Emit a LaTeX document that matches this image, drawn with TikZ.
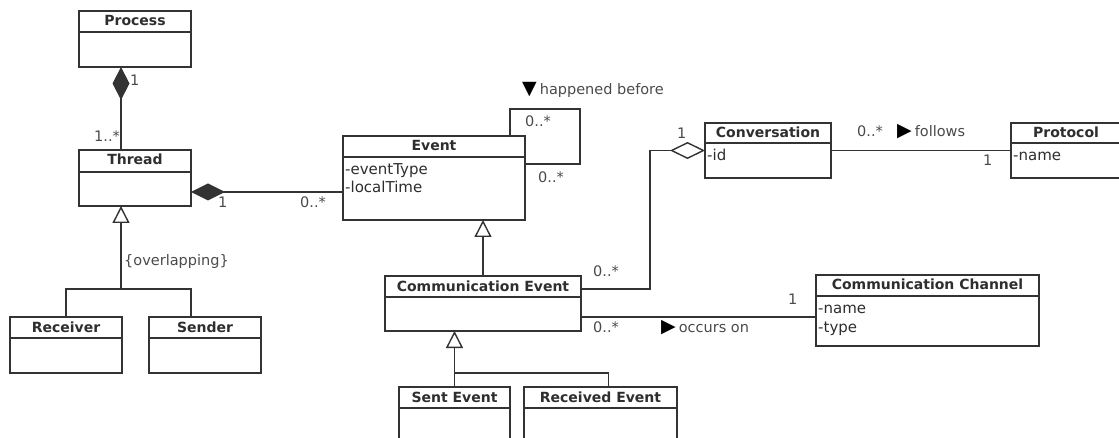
\documentclass[tikz,border=0pt]{standalone}
\usepackage{fontspec}
\setmainfont{DejaVu Sans}
\usetikzlibrary{arrows.meta}
\definecolor{ink}{HTML}{333333}
\definecolor{txt}{HTML}{2E2E2E}
\definecolor{lbl}{HTML}{4A4A4A}

\tikzset{
  classbox/.style={draw=ink, line width=1.4pt, fill=white, inner sep=0pt,
    outer sep=0pt, anchor=north west},
  ctitle/.style={font=\bfseries\fontsize{14}{16}\selectfont, text=txt,
    inner sep=0pt, anchor=base},
  attr/.style={font=\fontsize{15}{17}\selectfont, text=txt, inner sep=0pt,
    anchor=base west},
  mult/.style={font=\fontsize{14.5}{16}\selectfont, text=lbl, inner sep=0pt,
    anchor=base west},
  conn/.style={draw=ink, line width=1.4pt},
  composition/.style={{Diamond[length=#1,width=17pt]}-},
  aggregation/.style={{Diamond[open,fill=white,length=#1,width=17pt]}-},
  inherits/.style={{Triangle[open,fill=white,length=17pt,width=17pt]}-},
}

% reading-direction marker for association names
\newcommand\dirmark[1]{{\fontsize{19}{16}\selectfont\color{black}#1}\kern3pt}

% name, x, y, width, height, header height, title
\newcommand\umlclass[7]{%
  \node[classbox, minimum width=#4pt, minimum height=#5pt] (#1) at (#2,#3) {};
  \draw[conn] ([yshift=-#6pt]#1.north west) -- ([yshift=-#6pt]#1.north east);
  \node[ctitle] (#1-title) at ([yshift=-15pt]#1.north) {#7};
}

\begin{document}
\begin{tikzpicture}[x=1pt,y=-1pt]
\useasboundingbox (0,0) rectangle (1119,438);
\clip (0,0) rectangle (1119,438);

% classes
\umlclass{process}{79}{11}{112}{56}{21}{Process}
\umlclass{thread}{79}{150}{112}{56}{22}{Thread}
\umlclass{receiver}{10}{317}{112}{56}{21}{Receiver}
\umlclass{sender}{149}{317}{112}{56}{21}{Sender}
\umlclass{event}{343}{136}{182}{84}{21}{Event}
\umlclass{commevent}{385}{276}{196}{55}{21}{Communication Event}
\umlclass{sent}{399}{387}{111}{70}{21}{Sent Event}
\umlclass{received}{524}{387}{153}{70}{21}{Received Event}
\umlclass{conversation}{705}{123}{126}{55}{20}{Conversation}
\umlclass{protocol}{1011}{123}{110}{55}{20}{Protocol}
\umlclass{channel}{816}{275}{223}{71}{21}{Communication Channel}

% attributes
\node[attr] (event-a1) at (345,175) {-eventType};
\node[attr] (event-a2) at (345,193) {-localTime};
\node[attr] (conversation-a1) at (707,161) {-id};
\node[attr] (protocol-a1) at (1013,161) {-name};
\node[attr] (channel-a1) at (818,314) {-name};
\node[attr] (channel-a2) at (818,333) {-type};

% Process owns Threads
\draw[conn, composition=33pt] ([xshift=-14pt]process.south) -- ([xshift=-14pt]thread.north);
\node[mult] (m-proc) at (130,86) {1};
\node[mult] (m-thread) at (94,142) {1..*};

% Thread owns Events
\draw[conn, composition=34pt] ([yshift=-14pt]thread.east) -- ([yshift=-14pt]event.west);
\node[mult] (m-thread-ev) at (218,208) {1};
\node[mult] (m-ev-thread) at (300,208) {0..*};

% Thread specialisations
\draw[conn, inherits] ([xshift=-14pt]thread.south) -- ++(0,83) coordinate (tgen);
\draw[conn] (tgen) -| (receiver.north);
\draw[conn] (tgen) -| ([xshift=-14pt]sender.north);
\node[mult] (overlap) at (124,266) {\{overlapping\}};

% happened-before self association on Event
\draw[conn] ([xshift=-15pt]event.north east) -- ++(0,-27) -- ++(70,0) -- ++(0,55)
  -- ([yshift=-28pt]event.north east);
\node[mult] (m-hb1) at (525,127) {0..*};
\node[mult] (m-hb2) at (538,183) {0..*};
\node[mult] (hb) at (522,95) {\dirmark{▼}happened before};

% Event specialisation
\draw[conn, inherits] (commevent.north |- event.south) -- (commevent.north);

% Conversation aggregates Communication Events
\draw[conn, aggregation=35pt] (conversation.west) -- ++(-55,0)
  |- ([yshift=14.5pt]commevent.east);
\node[mult] (m-conv) at (677,139) {1};
\node[mult] (m-ce-conv) at (593,277) {0..*};

% Conversation follows Protocol
\draw[conn] (conversation.east) -- (protocol.west);
\node[mult] (m-conv-prot) at (857,137) {0..*};
\node[mult] (follows) at (897,137) {\dirmark{▶}follows};
\node[mult] (m-prot) at (983,166) {1};

% Communication Event occurs on Channel
\draw[conn] ([yshift=-13.5pt]commevent.east) coordinate (oc) -- (oc -| channel.west);
\node[mult] (m-ce-ch) at (593,333) {0..*};
\node[mult] (occurs) at (661,332) {\dirmark{▶}occurs on};
\node[mult] (m-ch) at (788,305) {1};

% Communication Event specialisations
\draw[conn, inherits] (commevent.south -| sent.north) -- (sent.north);
\draw[conn] ([yshift=14pt]sent.north) -| ([xshift=8pt]received.north);
\end{tikzpicture}
\end{document}
